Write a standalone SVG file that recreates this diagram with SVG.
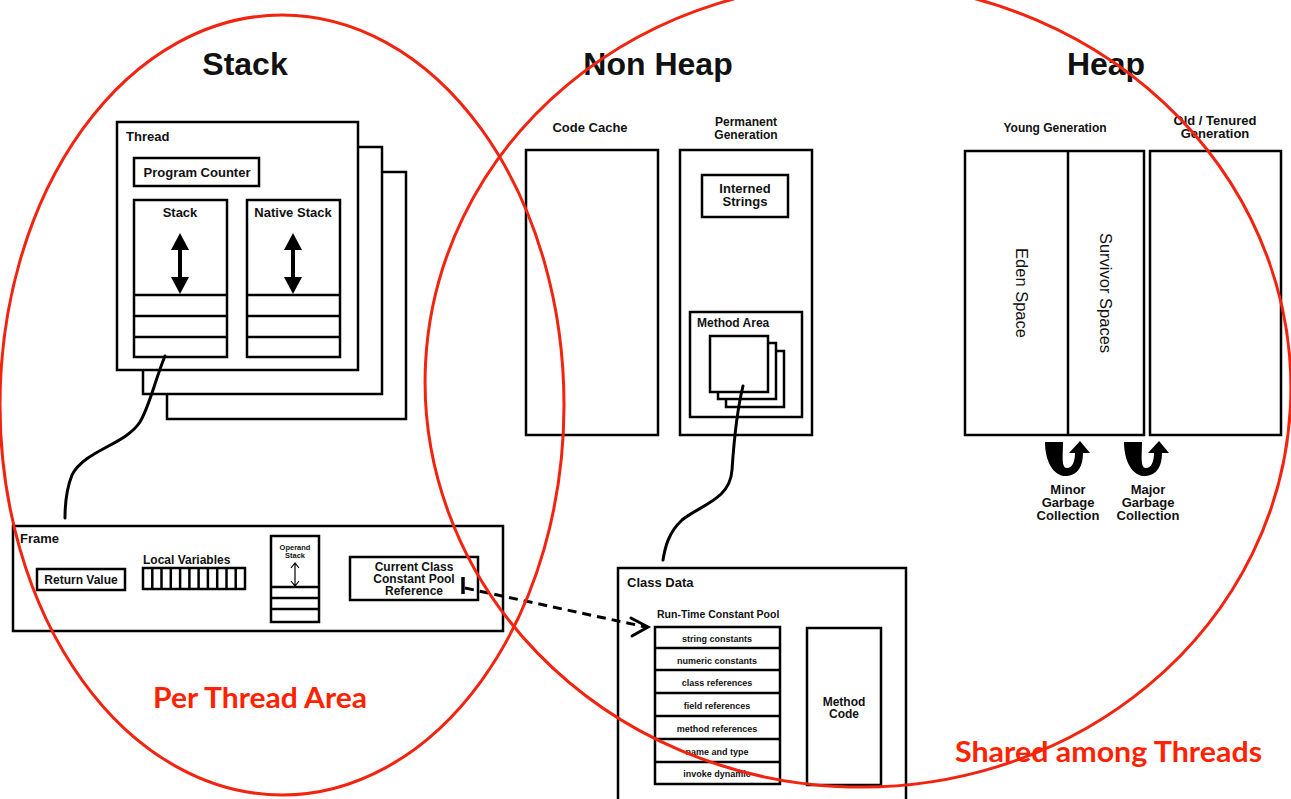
<svg xmlns="http://www.w3.org/2000/svg" width="1291" height="799" viewBox="0 0 1291 799">
<defs>
<style>
.b{fill:#fff;stroke:#000;stroke-width:2.5}
.n{fill:none;stroke:#000;stroke-width:2.5}
.t{font-family:"Liberation Sans",Arial,sans-serif;font-weight:bold;fill:#111}
.c{text-anchor:middle}
.title{font-size:32px}
.s13{font-size:13px}
.s12{font-size:12px}
.s9{font-size:9px}
.red{font-family:Lato,"Open Sans",sans-serif;font-weight:bold;font-size:28px;fill:#ff2200}
.ell{fill:none;stroke:#f22410;stroke-width:3}
.conn{fill:none;stroke:#000;stroke-width:3;stroke-linecap:round}
</style>
</defs>
<rect width="1291" height="799" fill="#fff"/>

<g id="titles">
<text class="t title c" x="245" y="75">Stack</text>
<text class="t title c" x="658" y="75">Non Heap</text>
<text class="t title c" x="1106" y="75">Heap</text>
</g>

<g id="thread">
<rect class="b" x="167" y="172" width="239" height="247"/>
<rect class="b" x="143" y="147" width="239" height="247"/>
<rect class="b" x="117" y="122" width="241" height="248"/>
<text class="t s13" x="126" y="141">Thread</text>
<rect class="b" x="134" y="158" width="125" height="28"/>
<text class="t s13 c" x="197" y="177">Program Counter</text>
</g>

<g id="stack">
<rect class="b" x="134" y="200" width="93" height="157"/>
<text class="t s13 c" x="180" y="217">Stack</text>
<line class="n" x1="134" y1="295" x2="227" y2="295"/>
<line class="n" x1="134" y1="316" x2="227" y2="316"/>
<line class="n" x1="134" y1="337" x2="227" y2="337"/>
<line x1="180" y1="246" x2="180" y2="281" stroke="#000" stroke-width="4"/>
<polygon points="180,233 171,250 189,250" fill="#000"/>
<polygon points="180,294 171,277 189,277" fill="#000"/>
</g>

<g id="native-stack">
<rect class="b" x="247" y="200" width="93" height="157"/>
<text class="t s13 c" x="293" y="217">Native Stack</text>
<line class="n" x1="247" y1="295" x2="340" y2="295"/>
<line class="n" x1="247" y1="316" x2="340" y2="316"/>
<line class="n" x1="247" y1="337" x2="340" y2="337"/>
<line x1="293" y1="246" x2="293" y2="281" stroke="#000" stroke-width="4"/>
<polygon points="293,233 284,250 302,250" fill="#000"/>
<polygon points="293,294 284,277 302,277" fill="#000"/>
</g>

<g id="frame">
<rect class="b" x="13" y="526" width="490" height="105"/>
<text class="t s13" x="20" y="543">Frame</text>
<rect class="b" x="37" y="569" width="88" height="21"/>
<text class="t s12 c" x="81" y="584">Return Value</text>
<text class="t s12" x="143" y="564">Local Variables</text>
<rect class="b" x="143" y="568" width="102" height="21"/>
<path class="n" stroke-width="2" d="M152.3,568V589M161.5,568V589M170.8,568V589M180.1,568V589M189.4,568V589M198.6,568V589M207.9,568V589M217.2,568V589M226.5,568V589M235.7,568V589"/>
<rect class="b" x="271" y="536" width="48" height="86"/>
<text class="t c" font-size="7.5" x="295" y="550">Operand</text>
<text class="t c" font-size="7.5" x="295" y="558">Stack</text>
<path d="M295,564V585M291,568L295,563L299,568M291,581L295,586L299,581" fill="none" stroke="#000" stroke-width="1.2"/>
<line class="n" x1="271" y1="587" x2="319" y2="587"/>
<line class="n" x1="271" y1="598" x2="319" y2="598"/>
<line class="n" x1="271" y1="609" x2="319" y2="609"/>
<rect class="b" x="350" y="557" width="128" height="43"/>
<text class="t s12 c" x="414" y="571">Current Class</text>
<text class="t s12 c" x="414" y="583">Constant Pool</text>
<text class="t s12 c" x="414" y="595">Reference</text>
</g>

<g id="code-cache">
<text class="t s13 c" x="590" y="132">Code Cache</text>
<rect class="b" x="526" y="150" width="132" height="285"/>
</g>

<g id="permanent-generation">
<text class="t s12 c" x="746" y="126">Permanent</text>
<text class="t s12 c" x="746" y="139">Generation</text>
<rect class="b" x="680" y="150" width="132" height="285"/>
<rect class="b" x="702" y="175" width="86" height="42"/>
<text class="t s13 c" x="745" y="193">Interned</text>
<text class="t s13 c" x="745" y="206">Strings</text>
</g>

<g id="method-area">
<rect class="b" x="690" y="312" width="112" height="105"/>
<text class="t s12" x="697" y="327">Method Area</text>
<rect class="b" x="726" y="351" width="58" height="56"/>
<rect class="b" x="718" y="343" width="58" height="56"/>
<rect class="b" x="710" y="336" width="58" height="56"/>
</g>

<g id="class-data">
<rect class="b" x="618" y="568" width="288" height="240"/>
<text class="t s13" x="627" y="587">Class Data</text>
<text class="t" font-size="10.5" x="657" y="618">Run-Time Constant Pool</text>
<rect class="b" x="655" y="627" width="125" height="157"/>
<line class="n" x1="655" y1="648" x2="780" y2="648"/>
<line class="n" x1="655" y1="670" x2="780" y2="670"/>
<line class="n" x1="655" y1="693" x2="780" y2="693"/>
<line class="n" x1="655" y1="716" x2="780" y2="716"/>
<line class="n" x1="655" y1="739" x2="780" y2="739"/>
<line class="n" x1="655" y1="762" x2="780" y2="762"/>
<text class="t s9 c" x="717" y="642">string constants</text>
<text class="t s9 c" x="717" y="664">numeric constants</text>
<text class="t s9 c" x="717" y="686">class references</text>
<text class="t s9 c" x="717" y="709">field references</text>
<text class="t s9 c" x="717" y="732">method references</text>
<text class="t s9 c" x="717" y="755">name and type</text>
<text class="t s9 c" x="717" y="777">invoke dynamic</text>
<rect class="b" x="807" y="628" width="74" height="157"/>
<text class="t s12 c" x="844" y="706">Method</text>
<text class="t s12 c" x="844" y="718">Code</text>
</g>

<g id="young-generation">
<text class="t s12 c" x="1055" y="132">Young Generation</text>
<rect class="b" x="965" y="151" width="179" height="284"/>
<line class="n" x1="1068" y1="151" x2="1068" y2="435"/>
<text font-family="Liberation Sans,Arial,sans-serif" font-size="16.5" fill="#111" text-anchor="middle" transform="translate(1016,293) rotate(90)">Eden Space</text>
<text font-family="Liberation Sans,Arial,sans-serif" font-size="16.5" fill="#111" text-anchor="middle" transform="translate(1100,293) rotate(90)">Survivor Spaces</text>
</g>

<g id="old-generation">
<text class="t s13 c" x="1215" y="125">Old / Tenured</text>
<text class="t s13 c" x="1215" y="138">Generation</text>
<rect class="b" x="1150" y="151" width="131" height="284"/>
</g>

<g id="minor-gc">
<path fill="#000" d="M1045,442 C1045,462 1054,477 1067,476 C1078,475 1083,466 1083,453 L1090,453 L1080,441 L1069,453 L1075,453 C1075,462 1072,468 1067,468 C1061,468 1063,455 1063,442 Z"/>
<text class="t s13 c" x="1068" y="494">Minor</text>
<text class="t s13 c" x="1068" y="507">Garbage</text>
<text class="t s13 c" x="1068" y="520">Collection</text>
</g>

<g id="major-gc">
<path fill="#000" d="M1124,442 C1124,462 1133,477 1146,476 C1157,475 1162,466 1162,453 L1169,453 L1159,441 L1148,453 L1154,453 C1154,462 1151,468 1146,468 C1140,468 1142,455 1142,442 Z"/>
<text class="t s13 c" x="1148" y="494">Major</text>
<text class="t s13 c" x="1148" y="507">Garbage</text>
<text class="t s13 c" x="1148" y="520">Collection</text>
</g>

<g id="connectors">
<path class="conn" d="M165,356 C155,380 150,405 140,422 C125,445 85,450 72,475 C66,490 65,505 65,518"/>
<path class="conn" d="M743,386 C737,410 734,440 732,470 C730,500 700,505 682,520 C668,533 665,548 663,560"/>
<path d="M463,577V594" stroke="#000" stroke-width="3.5"/>
<path d="M465,588 L646,627" fill="none" stroke="#000" stroke-width="3" stroke-dasharray="9,6"/>
<path class="conn" d="M631,618 L648,627 L632,636"/>
</g>

<g id="regions">
<ellipse class="ell" cx="282" cy="405" rx="282" ry="390"/>
<ellipse class="ell" cx="858" cy="385" rx="433" ry="402" transform="rotate(3 858 385)"/>
<text class="red" x="153" y="708" textLength="214" lengthAdjust="spacingAndGlyphs">Per Thread Area</text>
<text class="red" x="955" y="762" textLength="307" lengthAdjust="spacingAndGlyphs">Shared among Threads</text>
</g>
</svg>
